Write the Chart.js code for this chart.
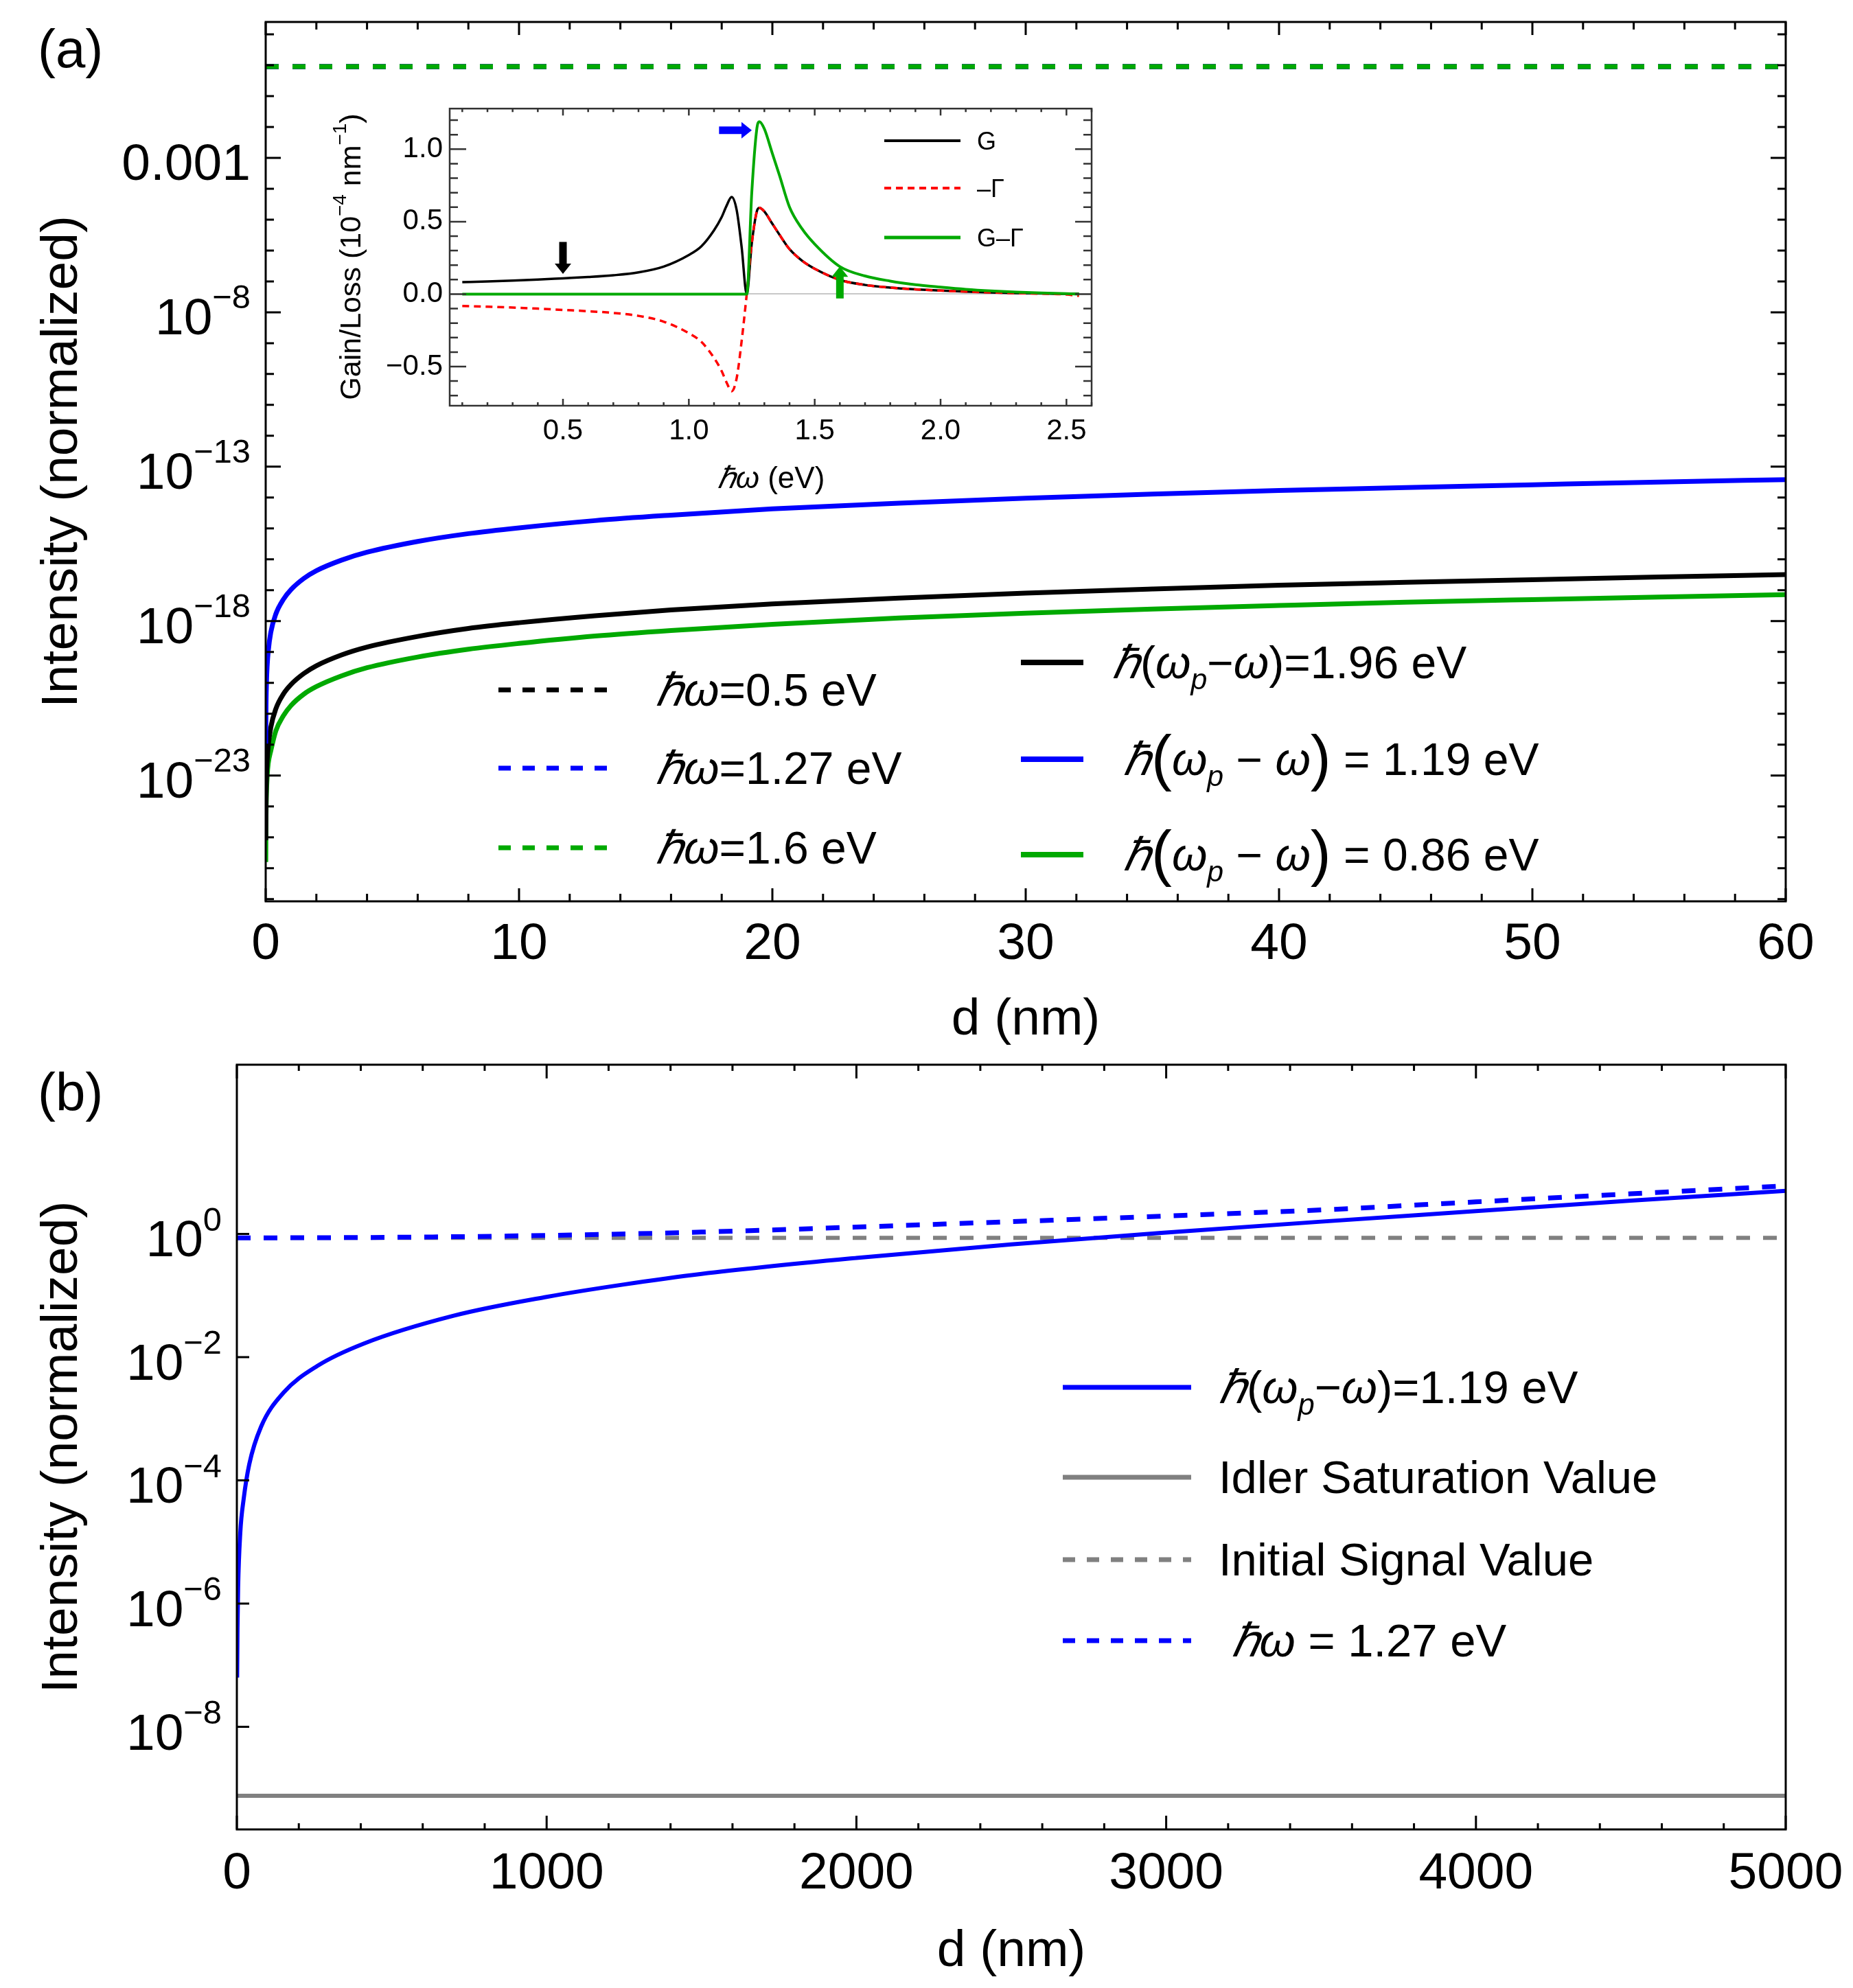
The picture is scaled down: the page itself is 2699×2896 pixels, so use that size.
<!DOCTYPE html>
<html>
<head>
<meta charset="utf-8">
<script src="https://cdn.jsdelivr.net/npm/chart.js@4.4.0/dist/chart.umd.min.js"></script>
<style>
  html, body { margin: 0; padding: 0; background: #fff; }
  #wrap { position: relative; width: 2699px; height: 2896px; }
  canvas { position: absolute; }
  #cA { left: 0; top: 0; }
  #cB { left: 0; top: 1540px; }
  #cIn { left: 420px; top: 123px; }
</style>
</head>
<body>
<div id="wrap">
  <canvas id="cA" width="2699" height="1540"></canvas>
  <canvas id="cB" width="2699" height="1356"></canvas>
  <canvas id="cIn" width="1200" height="617"></canvas>
</div>
<script>
const FONT = '"Liberation Sans", Arial, Helvetica, sans-serif';
const BLUE = '#0000ff', GREEN = '#00a900', GREY = '#808080', RED = '#ff0000';

// ---------- panel (a): intensity vs thickness d (nm) ----------
const dA = [0.003, 0.01, 0.03, 0.06, 0.1, 0.2, 0.4, 0.7, 1, 1.5, 2, 3, 4, 6, 8, 10, 13, 16, 20, 25, 30, 35, 40, 45, 50, 55, 60];
const idlerBlackA = [8.1e-26, 8.9e-25, 8.1e-24, 3.2e-23, 8.9e-23, 3.6e-22, 1.45e-21, 4.4e-21, 8.9e-21, 2.0e-20, 3.6e-20, 8.1e-20, 1.45e-19, 3.2e-19, 5.8e-19, 8.9e-19, 1.5e-18, 2.3e-18, 3.6e-18, 5.6e-18, 8.1e-18, 1.1e-17, 1.45e-17, 1.8e-17, 2.2e-17, 2.7e-17, 3.2e-17];
const idlerBlueA = [9.5e-23, 1.05e-21, 9.5e-21, 3.8e-20, 1.05e-19, 4.3e-19, 1.7e-18, 5.1e-18, 1.05e-17, 2.4e-17, 4.3e-17, 9.5e-17, 1.7e-16, 3.8e-16, 6.8e-16, 1.05e-15, 1.8e-15, 2.7e-15, 4.3e-15, 6.6e-15, 9.5e-15, 1.3e-14, 1.7e-14, 2.1e-14, 2.6e-14, 3.2e-14, 3.8e-14];
const idlerGreenA = [1.6e-26, 2.5e-25, 2.5e-24, 1.0e-23, 2.5e-23, 6.3e-23, 2.8e-22, 8.7e-22, 1.86e-21, 4.3e-21, 7.6e-21, 1.7e-20, 3.1e-20, 6.9e-20, 1.23e-19, 1.9e-19, 3.3e-19, 5.0e-19, 7.9e-19, 1.26e-18, 1.8e-18, 2.45e-18, 3.2e-18, 4.1e-18, 5.0e-18, 6.0e-18, 7.2e-18];
const dFlatA = [0, 60];
const signalBlackA = [0.9, 0.9];
const signalBlueA = [0.9, 0.9];
const signalGreenA = [0.9, 0.9];
const labelsSignalA = ['ℏω=0.5 eV', 'ℏω=1.27 eV', 'ℏω=1.6 eV'];
const labelsIdlerA = ['ℏ(ω_p−ω)=1.96 eV', 'ℏ(ω_p − ω) = 1.19 eV', 'ℏ(ω_p − ω) = 0.86 eV'];
const yTicksA = [1e-3, 1e-8, 1e-13, 1e-18, 1e-23];
const yTickTextA = ['0.001', '10^{−8}', '10^{−13}', '10^{−18}', '10^{−23}'];

// ---------- inset: gain / loss spectrum ----------
const energyIn = [0.1, 0.2, 0.3, 0.4, 0.5, 0.6, 0.7, 0.8, 0.9, 1.0, 1.05, 1.1, 1.13, 1.15, 1.17, 1.19, 1.21, 1.23, 1.25, 1.27, 1.28, 1.3, 1.33, 1.36, 1.4, 1.45, 1.5, 1.6, 1.7, 1.8, 1.9, 2.0, 2.1, 2.2, 2.3, 2.4, 2.5, 2.55];
const gainIn = [0.082, 0.087, 0.093, 0.100, 0.109, 0.118, 0.130, 0.150, 0.190, 0.27, 0.33, 0.44, 0.53, 0.61, 0.67, 0.58, 0.32, 0.0, 0.35, 0.57, 0.595, 0.57, 0.49, 0.41, 0.31, 0.23, 0.175, 0.098, 0.063, 0.045, 0.033, 0.024, 0.017, 0.011, 0.007, 0.004, 0.0015, 0.002];
const lossIn = [-0.082, -0.087, -0.093, -0.100, -0.109, -0.118, -0.130, -0.150, -0.190, -0.27, -0.33, -0.44, -0.53, -0.61, -0.67, -0.58, -0.32, 0.0, 0.35, 0.57, 0.595, 0.57, 0.49, 0.41, 0.31, 0.23, 0.175, 0.098, 0.063, 0.045, 0.033, 0.024, 0.017, 0.011, 0.007, 0.003, -0.003, -0.012];
const netIn = [0, 0, 0, 0, 0, 0, 0, 0, 0, 0, 0, 0, 0, 0, 0, 0, 0, 0, 0.70, 1.14, 1.19, 1.14, 0.98, 0.82, 0.6, 0.45, 0.345, 0.19, 0.125, 0.09, 0.065, 0.048, 0.033, 0.022, 0.014, 0.008, 0.003, 0.0];
const labelsIn = ['G', '–Γ', 'G–Γ'];
// arrows marking the three signal energies (data units)
const arrowsIn = [
  {x0: 0.5, y0: 0.36, x1: 0.5, y1: 0.14, color: '#000000'},
  {x0: 1.12, y0: 1.13, x1: 1.25, y1: 1.13, color: BLUE},
  {x0: 1.6, y0: -0.03, x1: 1.6, y1: 0.19, color: GREEN}
];

// ---------- panel (b): long-distance evolution ----------
const dB = [0.8, 2, 4, 11, 22, 40, 78, 150, 260, 410, 700, 1000, 1250, 1500, 2000, 2500, 3000, 3500, 4000, 4500, 5000];
const idlerB = [6.3e-8, 4.0e-7, 1.8e-6, 1.4e-5, 5.0e-5, 1.82e-4, 7.4e-4, 2.63e-3, 7.2e-3, 1.66e-2, 4.7e-2, 9.5e-2, 0.151, 0.224, 0.407, 0.676, 1.05, 1.58, 2.34, 3.47, 5.0];
const dSignalB = [0, 500, 1000, 1500, 2000, 2500, 3000, 3500, 4000, 4500, 5000];
const signalB = [0.86, 0.88, 0.944, 1.07, 1.29, 1.58, 1.95, 2.45, 3.31, 4.47, 6.0];
const dFlatB = [0, 5000];
const idlerSatB = [7.6e-10, 7.6e-10];
const initSignalB = [0.86, 0.86];
const labelsB = ['ℏ(ω_p−ω)=1.19 eV', 'Idler Saturation Value', 'Initial Signal Value', ' ℏω = 1.27 eV'];
const yTicksB = [1, 1e-2, 1e-4, 1e-6, 1e-8];
const yTickTextB = ['10^{0}', '10^{−2}', '10^{−4}', '10^{−6}', '10^{−8}'];

const pts = (xs, ys) => xs.map((x, i) => ({x, y: ys[i]}));

// ---------- small rich-text helpers (italic ℏ/ω, sub/superscripts) ----------
function parseRich(str, bigParens) {
  const segs = [];
  let i = 0;
  while (i < str.length) {
    const c = str[i];
    if (c === '^' || c === '_') {
      let t;
      if (str[i + 1] === '{') {
        const j = str.indexOf('}', i);
        t = str.slice(i + 2, j);
        i = j + 1;
      } else {
        t = str[i + 1];
        i += 2;
      }
      segs.push({t, sup: c === '^', sub: c === '_', it: c === '_'});
      continue;
    }
    segs.push({t: c, it: c === 'ℏ' || c === 'ω', big: !!bigParens && (c === '(' || c === ')')});
    i++;
  }
  // merge runs with the same style
  const out = [];
  for (const s of segs) {
    const p = out[out.length - 1];
    if (p && p.it === s.it && !!p.sup === !!s.sup && !!p.sub === !!s.sub && !!p.big === !!s.big) p.t += s.t;
    else out.push(Object.assign({}, s));
  }
  return out;
}

function segFont(s, size) {
  let px = size;
  if (s.sup || s.sub) px = size * 0.65;
  if (s.big) px = size * 1.36;
  return (s.it ? 'italic ' : '') + px.toFixed(1) + 'px ' + FONT;
}

function drawRich(ctx, segs, x, y, size, dry) {
  let cx = x;
  for (const s of segs) {
    ctx.font = segFont(s, size);
    let dy = 0;
    if (s.sup) dy = -0.5 * size;
    if (s.sub) dy = 0.24 * size;
    if (s.big) dy = 0.08 * size;
    if (!dry) ctx.fillText(s.t, cx, y + dy);
    cx += ctx.measureText(s.t).width;
  }
  return cx - x;
}

// ---------- plugins ----------
const frameTicks = {
  id: 'frameTicks',
  afterDatasetsDraw(chart, args, o) {
    const {ctx, chartArea: a} = chart;
    const xs = chart.scales.x, ys = chart.scales.y;
    ctx.save();
    ctx.strokeStyle = o.color;
    ctx.lineWidth = o.width;
    ctx.lineCap = 'butt';
    ctx.setLineDash([]);
    ctx.beginPath();
    const seg = (x0, y0, x1, y1) => { ctx.moveTo(x0, y0); ctx.lineTo(x1, y1); };
    const xTicks = (vals, len) => vals.forEach(v => {
      const p = xs.getPixelForValue(v);
      if (p < a.left - 1 || p > a.right + 1) return;
      seg(p, a.bottom, p, a.bottom - len);
      if (o.mirrorX) seg(p, a.top, p, a.top + len);
    });
    const yTicks = (vals, len) => vals.forEach(v => {
      const p = ys.getPixelForValue(v);
      if (p < a.top - 1 || p > a.bottom + 1) return;
      seg(a.left, p, a.left + len, p);
      if (o.mirrorY) seg(a.right, p, a.right - len, p);
    });
    xTicks(o.xMinor, o.xMinorLen);
    xTicks(o.xMajor, o.xMajorLen);
    yTicks(o.yMinor, o.yMinorLen);
    yTicks(o.yMajor, o.yMajorLen);
    ctx.stroke();
    ctx.strokeRect(a.left, a.top, a.right - a.left, a.bottom - a.top);
    ctx.restore();
  }
};

const powerLabels = {
  id: 'powerLabels',
  afterDraw(chart, args, o) {
    const {ctx, chartArea: a} = chart;
    const ys = chart.scales.y;
    ctx.save();
    ctx.fillStyle = '#000';
    ctx.textBaseline = 'alphabetic';
    ctx.textAlign = 'left';
    o.values.forEach((v, i) => {
      const segs = parseRich(o.texts[i]);
      const w = drawRich(ctx, segs, 0, 0, o.size, true);
      drawRich(ctx, segs, a.left - o.gap - w, ys.getPixelForValue(v) + o.shift, o.size);
    });
    ctx.restore();
  }
};

const richLegend = {
  id: 'richLegend',
  afterDraw(chart, args, o) {
    const ctx = chart.ctx;
    ctx.save();
    ctx.textBaseline = 'alphabetic';
    ctx.textAlign = 'left';
    for (const it of o.items) {
      const ds = chart.data.datasets[it.ds];
      ctx.strokeStyle = ds.borderColor;
      ctx.lineWidth = it.width;
      ctx.lineCap = 'butt';
      ctx.setLineDash(it.dash || []);
      ctx.beginPath();
      ctx.moveTo(it.x0, it.y);
      ctx.lineTo(it.x1, it.y);
      ctx.stroke();
      ctx.setLineDash([]);
      ctx.fillStyle = '#000';
      drawRich(ctx, parseRich(ds.label, it.big), it.tx, it.y + 0.35 * o.size, o.size);
    }
    if (o.panel) {
      ctx.font = o.panel.size + 'px ' + FONT;
      ctx.fillText(o.panel.text, o.panel.x, o.panel.y);
    }
    ctx.restore();
  }
};

const insetDecor = {
  id: 'insetDecor',
  afterDraw(chart, args, o) {
    const {ctx} = chart;
    const xs = chart.scales.x, ys = chart.scales.y;
    ctx.save();
    ctx.fillStyle = '#000';
    ctx.textBaseline = 'alphabetic';
    // axis titles
    const xt = parseRich('ℏω (eV)');
    const wx = drawRich(ctx, xt, 0, 0, o.titleSize, true);
    drawRich(ctx, xt, o.xTitle[0] - wx / 2, o.xTitle[1] + 0.35 * o.titleSize, o.titleSize);
    const yt = parseRich('Gain/Loss (10^{−4} nm^{−1})');
    const wy = drawRich(ctx, yt, 0, 0, o.yTitleSize, true);
    ctx.save();
    ctx.translate(o.yTitle[0], o.yTitle[1]);
    ctx.rotate(-Math.PI / 2);
    drawRich(ctx, yt, -wy / 2, 0.35 * o.yTitleSize, o.yTitleSize);
    ctx.restore();
    // legend
    o.legend.forEach((it, i) => {
      const ds = chart.data.datasets[it.ds];
      const y = o.legendY[i];
      ctx.strokeStyle = ds.borderColor;
      ctx.lineWidth = it.width;
      ctx.setLineDash(it.dash || []);
      ctx.beginPath();
      ctx.moveTo(o.legendX[0], y);
      ctx.lineTo(o.legendX[1], y);
      ctx.stroke();
      ctx.setLineDash([]);
      ctx.font = o.legendSize + 'px ' + FONT;
      ctx.fillText(ds.label, o.legendX[2], y + 0.35 * o.legendSize);
    });
    // arrows
    for (const ar of arrowsIn) {
      const x0 = xs.getPixelForValue(ar.x0), y0 = ys.getPixelForValue(ar.y0);
      const x1 = xs.getPixelForValue(ar.x1), y1 = ys.getPixelForValue(ar.y1);
      const len = Math.hypot(x1 - x0, y1 - y0);
      const ux = (x1 - x0) / len, uy = (y1 - y0) / len;
      const bx = x1 - ux * o.headLen, by = y1 - uy * o.headLen;
      ctx.strokeStyle = ar.color;
      ctx.fillStyle = ar.color;
      ctx.lineWidth = o.shaft;
      ctx.beginPath();
      ctx.moveTo(x0, y0);
      ctx.lineTo(bx + ux, by + uy);
      ctx.stroke();
      ctx.beginPath();
      ctx.moveTo(x1, y1);
      ctx.lineTo(bx - uy * o.headW / 2, by + ux * o.headW / 2);
      ctx.lineTo(bx + uy * o.headW / 2, by - ux * o.headW / 2);
      ctx.closePath();
      ctx.fill();
    }
    ctx.restore();
  }
};

// tick lists for the frames
const range = (a, b, s) => { const r = []; for (let k = a; k <= b; k += s) r.push(k); return r; };
const decades = (a, b) => range(a, b, 1).map(k => Math.pow(10, k));

// pin the x-axis box so edge labels do not shrink the plot area
const fixX = h => s => { s.height = h; s.paddingLeft = 0; s.paddingRight = 0; };

Chart.defaults.font.family = FONT;
Chart.defaults.color = '#000';

const lineDefaults = {
  point: {radius: 0, hoverRadius: 0},
  line: {cubicInterpolationMode: 'monotone', borderCapStyle: 'butt', fill: false}
};

// ---------- chart (a) ----------
new Chart(document.getElementById('cA'), {
  type: 'line',
  data: {
    datasets: [
      {label: labelsSignalA[2], data: pts(dFlatA, signalGreenA), borderColor: GREEN, borderWidth: 7, borderDash: [19, 20]},
      {label: labelsSignalA[1], data: pts(dFlatA, signalBlueA), borderColor: BLUE, borderWidth: 7, borderDash: [19, 20]},
      {label: labelsSignalA[0], data: pts(dFlatA, signalBlackA), borderColor: '#000000', borderWidth: 7, borderDash: [19, 20]},
      {label: labelsIdlerA[1], data: pts(dA, idlerBlueA), borderColor: BLUE, borderWidth: 7},
      {label: labelsIdlerA[0], data: pts(dA, idlerBlackA), borderColor: '#000000', borderWidth: 7},
      {label: labelsIdlerA[2], data: pts(dA, idlerGreenA), borderColor: GREEN, borderWidth: 7}
    ]
  },
  options: {
    responsive: false,
    animation: false,
    devicePixelRatio: 1,
    layout: {padding: {left: 0, right: 98, top: 32, bottom: 0}},
    elements: lineDefaults,
    scales: {
      x: {
        type: 'linear', min: 0, max: 60,
        grid: {display: false, drawTicks: false},
        border: {display: false},
        ticks: {stepSize: 10, padding: 18, maxRotation: 0, font: {size: 75}, callback: v => String(v)},
        title: {display: true, text: 'd (nm)', font: {size: 75}, padding: {top: 0, bottom: 9}},
        afterFit: fixX(227)
      },
      y: {
        type: 'logarithmic', min: 8.5e-28, max: 25,
        grid: {display: false, drawTicks: false},
        border: {display: false},
        ticks: {display: false},
        title: {display: true, text: 'Intensity (normalized)', font: {size: 75}, padding: {top: 46, bottom: 0}},
        afterFit: s => { s.width = 387; }
      }
    },
    plugins: {
      legend: {display: false},
      tooltip: {enabled: false},
      frameTicks: {
        color: '#000', width: 3, mirrorX: true, mirrorY: true,
        xMajor: range(0, 60, 10), xMinor: range(2, 58, 2).filter(v => v % 10),
        yMajor: yTicksA, yMinor: decades(-27, 1).filter(v => !yTicksA.includes(v)),
        xMajorLen: 19, xMinorLen: 11, yMajorLen: 22, yMinorLen: 12
      },
      powerLabels: {values: yTicksA, texts: yTickTextA, size: 75, gap: 22, shift: 32},
      richLegend: {
        size: 66,
        items: [
          {ds: 2, x0: 726, x1: 901, tx: 955, y: 1005, width: 7, dash: [18, 17]},
          {ds: 1, x0: 726, x1: 901, tx: 955, y: 1119, width: 7, dash: [18, 17]},
          {ds: 0, x0: 726, x1: 901, tx: 955, y: 1235, width: 7, dash: [18, 17]},
          {ds: 4, x0: 1487, x1: 1578, tx: 1620, y: 965, width: 8},
          {ds: 3, x0: 1487, x1: 1578, tx: 1636, y: 1106, width: 8, big: true},
          {ds: 5, x0: 1487, x1: 1578, tx: 1636, y: 1245, width: 8, big: true}
        ],
        panel: {text: '(a)', x: 55, y: 98, size: 78}
      }
    }
  },
  plugins: [frameTicks, powerLabels, richLegend]
});

// ---------- inset ----------
new Chart(document.getElementById('cIn'), {
  type: 'line',
  data: {
    datasets: [
      {label: labelsIn[2], data: pts(energyIn, netIn), borderColor: GREEN, borderWidth: 4},
      {label: labelsIn[1], data: pts(energyIn, lossIn), borderColor: RED, borderWidth: 3.5, borderDash: [10, 7]},
      {label: labelsIn[0], data: pts(energyIn, gainIn), borderColor: '#000000', borderWidth: 3.5}
    ]
  },
  options: {
    responsive: false,
    animation: false,
    devicePixelRatio: 1,
    layout: {padding: {left: 0, right: 30, top: 35, bottom: 0}},
    elements: lineDefaults,
    scales: {
      x: {
        type: 'linear', min: 0.05, max: 2.6,
        grid: {display: false, drawTicks: false},
        border: {display: false},
        ticks: {stepSize: 0.5, includeBounds: false, padding: 12, maxRotation: 0, font: {size: 42},
                callback: v => v.toFixed(1)},
        afterFit: fixX(149)
      },
      y: {
        type: 'linear', min: -0.77, max: 1.28,
        grid: {drawTicks: false, lineWidth: 2, color: c => (c.tick && Math.abs(c.tick.value) < 1e-9) ? '#c8c8c8' : 'rgba(0,0,0,0)'},
        border: {display: false},
        ticks: {stepSize: 0.5, includeBounds: false, padding: 10, font: {size: 42},
                callback: v => v.toFixed(1).replace('-', '−')},
        afterFit: s => { s.width = 235; }
      }
    },
    plugins: {
      legend: {display: false},
      tooltip: {enabled: false},
      frameTicks: {
        color: '#333', width: 2.5, mirrorX: true, mirrorY: true,
        xMajor: [0.5, 1.0, 1.5, 2.0, 2.5], xMinor: range(1, 26, 1).filter(k => k % 5).map(k => k / 10),
        yMajor: [-0.5, 0, 0.5, 1.0], yMinor: range(-7, 12, 1).filter(k => k % 5).map(k => k / 10),
        xMajorLen: 10, xMinorLen: 5, yMajorLen: 24, yMinorLen: 12
      },
      insetDecor: {
        titleSize: 44, yTitleSize: 43,
        xTitle: [703, 573], yTitle: [90, 251],
        legendSize: 36, legendX: [868, 979, 1003], legendY: [82, 151, 223],
        legend: [{ds: 2, width: 4}, {ds: 1, width: 4, dash: [10, 7]}, {ds: 0, width: 5}],
        shaft: 11, headW: 24, headLen: 15
      }
    }
  },
  plugins: [frameTicks, insetDecor]
});

// ---------- chart (b) ----------
new Chart(document.getElementById('cB'), {
  type: 'line',
  data: {
    datasets: [
      {label: labelsB[3], data: pts(dSignalB, signalB), borderColor: BLUE, borderWidth: 7, borderDash: [20, 19]},
      {label: labelsB[0], data: pts(dB, idlerB), borderColor: BLUE, borderWidth: 6},
      {label: labelsB[1], data: pts(dFlatB, idlerSatB), borderColor: GREY, borderWidth: 6},
      {label: labelsB[2], data: pts(dFlatB, initSignalB), borderColor: GREY, borderWidth: 6, borderDash: [20, 19]}
    ]
  },
  options: {
    responsive: false,
    animation: false,
    devicePixelRatio: 1,
    layout: {padding: {left: 0, right: 98, top: 11, bottom: 0}},
    elements: lineDefaults,
    scales: {
      x: {
        type: 'linear', min: 0, max: 5000,
        grid: {display: false, drawTicks: false},
        border: {display: false},
        ticks: {stepSize: 1000, padding: 20, maxRotation: 0, font: {size: 75}, callback: v => String(v)},
        title: {display: true, text: 'd (nm)', font: {size: 75}, padding: {top: 0, bottom: 8}},
        afterFit: fixX(231)
      },
      y: {
        type: 'logarithmic', min: 2.16e-10, max: 557,
        grid: {display: false, drawTicks: false},
        border: {display: false},
        ticks: {display: false},
        title: {display: true, text: 'Intensity (normalized)', font: {size: 75}, padding: {top: 46, bottom: 0}},
        afterFit: s => { s.width = 345; }
      }
    },
    plugins: {
      legend: {display: false},
      tooltip: {enabled: false},
      frameTicks: {
        color: '#000', width: 3, mirrorX: true, mirrorY: false,
        xMajor: range(0, 5000, 1000), xMinor: range(200, 4800, 200).filter(v => v % 1000),
        yMajor: yTicksB, yMinor: [],
        xMajorLen: 20, xMinorLen: 9, yMajorLen: 18, yMinorLen: 9
      },
      powerLabels: {values: yTicksB, texts: yTickTextB, size: 75, gap: 22, shift: 33},
      richLegend: {
        size: 67,
        items: [
          {ds: 1, x0: 1548, x1: 1735, tx: 1775, y: 481, width: 7},
          {ds: 2, x0: 1548, x1: 1735, tx: 1775, y: 612, width: 7},
          {ds: 3, x0: 1548, x1: 1735, tx: 1775, y: 732, width: 7, dash: [18, 17]},
          {ds: 0, x0: 1548, x1: 1735, tx: 1775, y: 850, width: 7, dash: [18, 17]}
        ],
        panel: {text: '(b)', x: 55, y: 78, size: 78}
      }
    }
  },
  plugins: [frameTicks, powerLabels, richLegend]
});
</script>
</body>
</html>
